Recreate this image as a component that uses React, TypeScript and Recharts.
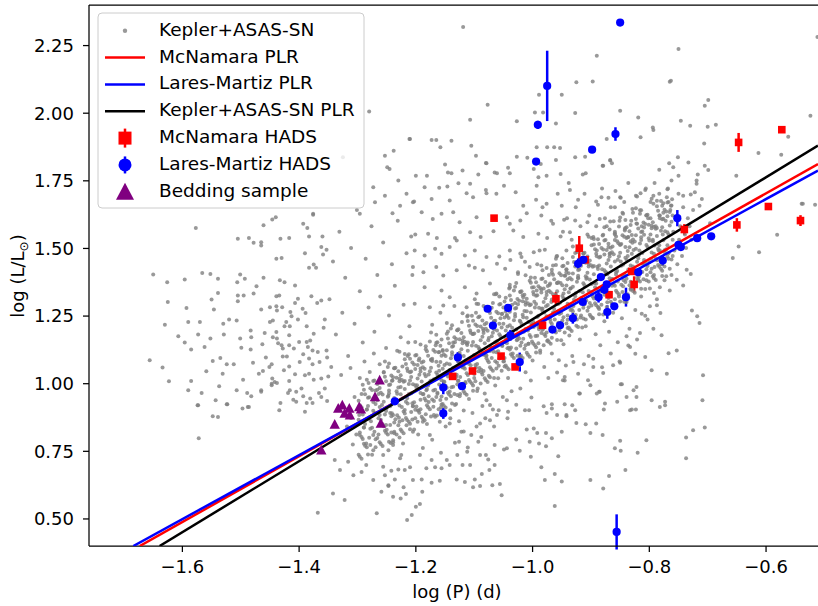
import React from "react";
import { ScatterChart, Scatter, XAxis, YAxis, ErrorBar, ReferenceLine } from "recharts";

const X_TICKS = [-1.6, -1.4, -1.2, -1.0, -0.8, -0.6];
const Y_TICKS = [0.5, 0.75, 1.0, 1.25, 1.5, 1.75, 2.0, 2.25];

// Kepler+ASAS-SN stars
const GRAY_LEFT = [
  [-1.577,1.576],[-1.650,1.404],[-1.626,1.375],[-1.596,1.385],[-1.566,1.409],[-1.552,1.406],[-1.539,1.388],[-1.625,1.302],[-1.593,1.280],[-1.630,1.218],
  [-1.607,1.175],[-1.590,1.228],[-1.570,1.228],[-1.656,1.087],[-1.634,1.060],[-1.623,1.009],[-1.596,1.152],[-1.585,1.126],[-1.573,1.182],[-1.562,1.136],
  [-1.550,1.311],[-1.546,1.274],[-1.539,1.335],[-1.585,1.010],[-1.590,0.976],[-1.567,0.966],[-1.573,0.920],[-1.559,1.046],[-1.548,1.084],[-1.552,1.167],
  [-1.530,1.222],[-1.529,1.182],[-1.520,1.237],[-1.507,1.234],[-1.535,1.095],[-1.524,1.072],[-1.512,1.072],[-1.531,1.037],[-1.537,0.991],[-1.543,0.939],
  [-1.524,0.924],[-1.507,0.976],[-1.496,1.015],[-1.501,1.167],[-1.499,1.133],[-1.483,1.197],[-1.482,1.172],[-1.483,1.126],[-1.479,1.077],[-1.469,1.037],
  [-1.462,1.047],[-1.489,0.966],[-1.482,0.954],[-1.465,0.976],[-1.451,1.062],[-1.447,1.072],[-1.446,1.019],[-1.447,1.000],[-1.457,1.097],[-1.463,1.146],
  [-1.459,1.187],[-1.450,1.228],[-1.445,1.234],[-1.450,1.283],[-1.439,1.286],[-1.429,1.283],[-1.438,1.271],[-1.439,1.323],[-1.434,1.326],[-1.465,1.274],
  [-1.478,1.333],[-1.473,1.360],[-1.495,1.326],[-1.505,1.326],[-1.505,1.305],[-1.506,1.375],[-1.501,1.404],[-1.493,1.388],[-1.461,1.392],[-1.433,1.382],
  [-1.425,1.375],[-1.407,1.363],[-1.505,1.536],[-1.486,1.539],[-1.478,1.521],[-1.465,1.523],[-1.465,1.511],[-1.461,1.586],[-1.446,1.607],[-1.440,1.615],
  [-1.432,1.536],[-1.417,1.539],[-1.439,1.462],[-1.430,1.465],[-1.393,1.591],[-1.386,1.576],[-1.376,1.625],[-1.383,1.544],[-1.390,1.482],[-1.360,1.544],
  [-1.362,1.505],[-1.353,1.495],[-1.359,1.478],[-1.383,1.429],[-1.375,1.441],[-1.371,1.429],[-1.379,1.323],[-1.369,1.298],[-1.362,1.308],[-1.402,1.314],
  [-1.407,1.298],[-1.394,1.277],[-1.389,1.261],[-1.415,1.265],[-1.413,1.249],[-1.422,1.228],[-1.416,1.212],[-1.425,1.212],[-1.402,1.237],[-1.387,1.212],
  [-1.356,1.237],[-1.358,1.207],[-1.375,1.185],[-1.417,1.179],[-1.439,1.191],[-1.445,1.172],[-1.438,1.167],[-1.436,1.150],[-1.430,1.142],[-1.428,1.130],
  [-1.417,1.142],[-1.400,1.154],[-1.387,1.154],[-1.381,1.160],[-1.385,1.136],[-1.377,1.123],[-1.368,1.117],[-1.353,1.123],[-1.393,1.109],[-1.383,1.093],
  [-1.377,1.072],[-1.365,1.080],[-1.352,1.097],[-1.428,1.101],[-1.421,1.101],[-1.409,1.130],[-1.417,1.064],[-1.407,1.035],[-1.399,1.080],[-1.390,1.031],
  [-1.383,1.037],[-1.375,1.015],[-1.362,1.019],[-1.350,1.027],[-1.426,1.050],[-1.447,0.994],[-1.442,1.006],[-1.438,1.003],[-1.417,1.010],[-1.416,0.976],
  [-1.405,0.970],[-1.396,0.982],[-1.381,0.945],[-1.366,0.966],[-1.356,0.982],[-1.419,0.966],[-1.410,0.941],[-1.432,0.929],[-1.405,0.933],[-1.393,0.954],
  [-1.387,0.929],[-1.377,0.929],[-1.362,0.951],[-1.352,0.936],[-1.465,0.970],[-1.486,0.914],[-1.497,0.908],
  [-1.574,0.920],[-1.539,0.877],[-1.548,0.880],[-1.572,0.798],[-1.523,0.924],[-1.488,0.914],[-1.434,0.902],[-1.390,0.896],
];

const GRAY_LOW = [
  [-1.368,0.523],[-1.342,0.594],[-1.322,0.570],[-1.267,0.521],[-1.339,0.718],[-1.330,0.681],[-1.316,0.711],[-1.307,0.662],[-1.293,0.674],[-1.285,0.699],
  [-1.273,0.644],[-1.256,0.693],[-1.247,0.625],[-1.239,0.582],[-1.285,0.779],[-1.296,0.810],[-1.273,0.754],[-1.256,0.736],[-1.239,0.773],[-1.227,0.724],
  [-1.219,0.681],[-0.945,1.012],[-0.901,0.994],[-0.849,0.998],[-0.822,0.988],[-0.920,0.964],[-0.886,0.970],[-0.855,0.933],[-0.839,0.951],[-0.830,0.905],
  [-0.823,0.905],[-0.876,0.927],[-0.878,0.905],[-0.932,0.920],[-0.945,0.924],[-0.942,0.880],[-0.958,0.884],[-0.925,0.855],[-0.909,0.850],[-0.891,0.853],
  [-0.901,0.818],[-0.880,0.810],[-0.950,0.822],[-0.967,0.924],[-0.981,0.917],[-0.976,0.892],[-0.967,0.908],[-1.002,0.949],[-1.006,0.902],[-1.010,0.831],
  [-0.998,0.834],[-0.992,0.818],[-0.977,0.818],[-1.028,0.794],[-1.005,0.785],[-0.989,0.779],[-0.977,0.769],[-0.967,0.798],[-1.003,0.730],[-1.022,0.752],
  [-1.044,0.761],[-1.049,0.757],[-0.956,0.732],[-0.985,0.691],[-0.962,0.666],[-0.950,0.638],[-0.979,0.644],[-0.962,0.548],[-0.901,0.644],[-0.869,0.659],
  [-0.879,0.613],[-0.859,0.761],[-0.849,0.752],[-0.841,0.681],[-0.850,0.789],[-0.820,0.745],[-1.053,0.588],[-1.069,0.625],[-1.090,0.622],[-1.102,0.617],
  [-1.099,0.646],[-1.087,0.666],[-1.074,0.681],[-1.065,0.699],[-1.076,0.720],[-1.056,0.629],[-1.116,0.637],[-1.130,0.646],[-1.159,0.641],[-1.173,0.634],
  [-1.190,0.646],[-1.205,0.644],[-1.193,0.555],[-1.200,0.545],[-1.207,0.515],[-1.215,0.496],[-1.189,0.601],[-1.217,0.592],[-1.226,0.576],[-1.221,0.617],
  [-1.236,0.646],[-1.247,0.622],[-1.259,0.601],[-1.253,0.662],[-1.242,0.678],[-1.230,0.683],[-1.210,0.691],[-1.182,0.687],[-1.167,0.691],[-1.156,0.687],
  [-1.142,0.699],[-1.147,0.718],[-1.120,0.699],[-1.107,0.699],[-1.129,0.736],[-1.112,0.748],[-1.090,0.736],[-1.080,0.736],[-1.065,0.773],[-1.093,0.785],
  [-1.105,0.810],[-1.126,0.785],[-1.122,0.822],[-1.090,0.853],[-1.073,0.865],[-1.061,0.884],[-1.042,0.896],[-1.044,0.939],[-1.068,0.905],[-1.079,0.939],
  [-1.159,0.859],[-1.142,0.853],[-1.176,0.810],[-1.205,0.822],[-1.222,0.779],[-1.239,0.791],[-1.247,0.754],[-1.225,0.736],[-1.193,0.736],[-1.173,0.718],
  [-0.737,0.801],[-0.737,0.724],[-0.725,0.828],[-0.705,0.838],[-0.773,0.920],[-0.805,0.791],
  [-1.196,0.812],[-1.188,0.762],[-1.181,0.851],[-1.172,0.793],[-1.164,0.882],[-1.157,0.745],[-1.149,0.842],[-1.141,0.902],[-1.133,0.782],[-1.126,0.861],
  [-1.118,0.823],[-1.111,0.764],[-1.103,0.892],[-1.096,0.842],[-1.088,0.803],[-1.081,0.872],[-1.073,0.921],[-1.066,0.842],[-1.058,0.902],[-1.051,0.951],
  [-1.043,0.872],[-1.036,0.972],[-1.028,0.922],[-1.021,0.982],[-1.013,0.902],
];

const GRAY_UPPER = [
  [-1.097,1.843],[-1.027,1.839],[-1.009,1.835],[-0.927,1.837],[-0.880,1.806],[-0.867,1.825],[-1.150,1.810],[-1.079,1.815],[-1.200,1.769],[-1.181,1.769],
  [-1.145,1.781],[-1.139,1.778],[-1.120,1.788],[-1.093,1.773],[-1.065,1.781],[-1.061,1.778],[-1.039,1.778],[-0.998,1.794],[-0.976,1.769],[-0.952,1.775],
  [-0.914,1.773],[-1.185,1.726],[-1.160,1.724],[-1.146,1.729],[-1.127,1.741],[-1.107,1.739],[-1.080,1.716],[-1.049,1.732],[-0.993,1.732],[-0.936,1.716],
  [-1.203,1.674],[-1.173,1.683],[-1.142,1.677],[-1.113,1.704],[-1.102,1.689],[-1.079,1.704],[-1.062,1.702],[-1.029,1.708],[-1.016,1.658],[-0.994,1.680],
  [-0.976,1.665],[-0.950,1.658],[-0.922,1.680],[-0.891,1.674],[-0.849,1.687],[-1.190,1.634],[-1.171,1.609],[-1.156,1.628],[-1.136,1.634],[-1.125,1.597],
  [-1.096,1.615],[-1.044,1.615],[-1.039,1.591],[-1.021,1.603],[-1.010,1.630],[-0.985,1.622],[-0.965,1.591],[-0.946,1.606],[-0.927,1.603],[-0.906,1.597],
  [-0.885,1.609],[-0.867,1.600],[-0.845,1.628],[-1.208,1.544],[-1.179,1.554],[-1.164,1.539],[-1.133,1.539],[-1.130,1.529],[-1.107,1.560],[-1.089,1.542],
  [-1.067,1.564],[-1.033,1.566],[-1.016,1.542],[-0.990,1.554],[-0.975,1.539],[-0.952,1.544],[-0.936,1.560],[-0.899,1.539],[-0.880,1.548],[-0.859,1.556],
  [-0.842,1.566],[-1.202,1.492],[-1.185,1.474],[-1.167,1.499],[-1.156,1.480],[-1.142,1.505],[-1.116,1.474],[-1.099,1.492],[-1.079,1.468],[-1.057,1.470],
  [-1.039,1.492],[-1.019,1.468],[-0.998,1.486],[-0.979,1.495],[-0.959,1.470],[-0.942,1.492],[-0.890,1.492],[-0.870,1.505],[-0.853,1.519],[-0.839,1.539],
  [-1.205,1.431],[-1.187,1.412],[-1.165,1.431],[-1.153,1.400],[-1.130,1.419],[-1.109,1.437],[-1.099,1.429],[-1.085,1.419],[-1.061,1.443],[-1.047,1.425],
  [-1.025,1.406],[-1.005,1.431],[-0.983,1.419],[-0.965,1.437],[-0.942,1.412],[-1.185,1.357],[-1.156,1.345],[-1.142,1.320],[-1.116,1.357],[-1.096,1.333],
  [-1.073,1.370],[-1.062,1.333],[-1.039,1.357],[-1.016,1.320],[-0.993,1.345],[-0.970,1.370],[-0.947,1.333],[-1.202,1.296],[-1.176,1.283],[-1.153,1.289],
  [-1.113,1.283],[-1.096,1.296],
  [-1.348,1.312],[-1.342,1.452],[-1.337,1.182],[-1.331,1.562],[-1.326,1.262],[-1.321,1.392],[-1.316,1.102],[-1.311,1.502],[-1.305,1.222],[-1.301,1.642],
  [-1.296,1.342],[-1.291,1.152],[-1.286,1.462],[-1.281,1.282],[-1.276,1.582],[-1.271,1.192],[-1.266,1.402],[-1.261,1.322],[-1.256,1.522],[-1.251,1.132],
  [-1.246,1.252],[-1.241,1.442],[-1.236,1.362],[-1.231,1.602],[-1.226,1.172],[-1.221,1.292],[-1.216,1.482],[-1.211,1.212],[-1.206,1.402],[-1.201,1.552],
  [-1.345,1.062],[-1.328,1.032],[-1.312,1.058],[-1.288,1.082],[-1.272,1.112],[-1.253,1.082],[-1.232,1.122],[-1.213,1.152],
];

const GRAY_TOP = [
  [-1.280,2.006],[-1.211,1.905],[-1.238,1.861],[-1.253,1.843],[-1.249,1.800],[-1.245,1.794],[-1.230,1.751],[-1.216,1.702],[-1.205,1.671],[-1.273,1.726],
  [-1.270,1.671],[-1.253,1.695],[-1.240,1.630],[-1.227,1.658],[-1.376,1.628],[-1.296,1.628],[-1.325,1.837],
  [-1.119,2.319],[-0.890,2.212],[-1.077,2.031],[-0.925,2.114],[-0.897,2.117],[-0.989,2.068],[-0.950,2.068],[-1.107,1.976],[-1.027,1.970],[-0.996,2.003],
  [-0.982,2.003],[-0.927,2.001],[-0.960,1.962],[-1.210,1.905],[-1.173,1.901],[-1.165,1.901],[-1.139,1.898],[-1.105,1.880],[-1.158,1.874],[-0.993,1.874],
  [-0.975,1.874],[-0.963,1.874],[-0.953,1.871],[-1.042,1.798],[-0.986,1.812],[-0.990,1.763],[-0.909,1.778],[-0.960,1.827],[-0.910,1.839],[-1.080,1.816],
];

const GRAY_RIGHT = [
  [-0.539,1.665],[-0.516,1.662],[-0.581,1.551],[-0.612,1.486],[-0.647,1.507],[-0.657,1.465],[-0.696,1.593],[-0.718,1.249],[-0.714,1.224],[-0.727,1.271],
  [-0.708,1.031],[-0.709,0.939],[-0.736,1.421],[-0.729,1.406],[-0.753,1.384],[-0.742,1.363],[-0.765,1.345],[-0.782,1.357],[-0.792,1.335],[-0.799,1.286],
  [-0.787,1.290],[-0.781,1.261],[-0.813,1.259],[-0.803,1.237],[-0.793,1.203],[-0.779,1.179],[-0.767,1.113],[-0.753,1.123],[-0.770,1.037],[-0.773,0.933],
  [-0.796,1.050],[-0.807,1.099],[-0.824,1.111],[-0.833,1.136],[-0.816,1.187],[-0.839,1.175],[-0.850,1.077],[-0.862,1.068],[-0.847,0.998],[-0.827,0.976],
  [-0.822,0.951],[-0.833,0.902],[-0.796,0.939],[-0.782,0.914],[-0.879,1.040],[-0.885,0.970],[-0.896,1.062],[-0.905,1.013],[-0.919,0.964],[-0.927,0.902],
  [-0.942,0.884],[-0.945,1.025],[-0.948,1.013],[-0.922,1.037],[-0.930,1.080],[-0.890,0.964],
  [-0.750,2.237],[-0.765,2.116],[-0.699,2.049],[-0.705,2.028],[-0.850,2.009],[-0.819,1.984],[-0.794,1.947],[-0.793,1.938],[-0.746,1.972],[-0.730,1.954],
  [-0.700,1.950],[-0.686,1.957],[-0.524,1.991],[-0.512,2.282],[-0.815,1.911],[-0.873,1.905],[-0.706,1.888],[-0.751,1.837],[-0.733,1.818],[-0.766,1.815],
  [-0.759,1.800],[-0.867,1.827],[-0.864,1.815],[-0.879,1.806],[-0.783,1.791],[-0.705,1.806],[-0.699,1.790],[-0.750,1.769],[-0.717,1.773],[-0.651,1.769],
  [-0.613,1.853],[-0.574,1.846],[-0.562,1.913],[-0.762,1.751],[-0.719,1.751],[-0.719,1.739],[-0.807,1.716],[-0.823,1.695],[-0.815,1.704],[-0.793,1.695],
  [-0.770,1.689],[-0.742,1.695],[-0.729,1.699],[-0.710,1.683],[-0.722,1.708],[-0.850,1.689],[-0.870,1.687],[-0.882,1.689],[-0.859,1.652],[-0.829,1.646],
  [-0.793,1.665],[-0.776,1.667],[-0.763,1.658],[-0.750,1.702],[-0.714,1.658],[-0.537,1.665],[-0.763,2.120],
];

const GRAY_BAND = [
  [-1.318,0.842],[-1.311,0.873],[-1.305,0.951],[-1.302,0.812],[-1.297,0.884],[-1.293,0.962],[-1.289,0.838],[-1.284,0.905],[-1.281,1.003],[-1.277,0.861],
  [-1.273,0.932],[-1.269,0.795],[-1.266,0.978],[-1.262,0.884],[-1.258,0.921],[-1.255,1.041],[-1.251,0.847],[-1.247,0.955],[-1.244,0.892],[-1.240,1.012],
  [-1.237,0.822],[-1.233,0.931],[-1.229,0.874],[-1.226,0.988],[-1.223,1.064],[-1.219,0.903],[-1.216,0.846],[-1.212,0.962],[-1.208,1.025],[-1.205,0.917],
  [-1.201,0.872],[-1.198,0.994],[-1.195,1.087],[-1.192,0.941],[-1.188,0.859],[-1.185,1.036],[-1.182,0.976],[-1.279,1.043],[-1.262,1.072],[-1.243,0.781],
  [-1.228,0.801],[-1.214,1.102],[-1.296,1.021],[-1.308,0.775],[-1.196,0.902],
  [-1.178,0.932],[-1.175,1.011],[-1.172,1.084],[-1.169,0.884],[-1.166,1.142],[-1.163,0.967],[-1.160,1.048],[-1.157,0.913],[-1.154,1.121],[-1.151,1.006],
  [-1.148,0.944],[-1.145,1.193],[-1.142,1.072],[-1.139,0.987],[-1.136,1.152],[-1.133,0.921],[-1.130,1.033],[-1.127,1.104],[-1.124,0.962],[-1.121,1.228],
  [-1.118,1.061],[-1.115,1.002],[-1.112,1.143],[-1.109,0.943],[-1.106,1.088],[-1.103,1.184],[-1.100,1.021],[-1.097,1.262],[-1.094,0.982],[-1.091,1.127],
  [-1.088,1.052],[-1.085,1.203],[-1.082,0.964],[-1.079,1.094],[-1.076,1.161],[-1.073,1.024],[-1.070,1.281],[-1.067,1.118],[-1.064,0.993],[-1.061,1.197],
  [-1.058,1.066],[-1.055,1.242],[-1.052,1.142],[-1.172,1.218],[-1.158,1.262],[-1.141,0.872],[-1.118,0.901],[-1.099,1.312],[-1.086,0.918],[-1.063,1.331],
  [-1.134,1.287],[-1.112,1.248],[-1.145,1.041],[-1.128,1.011],[-1.104,1.046],
  [-1.049,1.083],[-1.047,1.172],[-1.044,1.254],[-1.042,1.021],[-1.040,1.352],[-1.037,1.134],[-1.035,1.207],[-1.032,1.062],[-1.030,1.298],[-1.027,1.161],
  [-1.025,1.412],[-1.022,1.233],[-1.020,1.103],[-1.017,1.327],[-1.015,1.192],[-1.012,1.042],[-1.010,1.268],[-1.007,1.148],[-1.005,1.381],[-1.002,1.221],
  [-1.000,1.086],[-0.997,1.303],[-0.995,1.176],[-0.992,1.442],[-0.990,1.251],[-0.987,1.123],[-0.985,1.348],[-0.982,1.203],[-0.980,1.062],[-0.977,1.286],
  [-0.975,1.158],[-0.972,1.402],[-0.970,1.238],[-0.967,1.112],[-0.965,1.331],[-0.962,1.194],[-0.960,1.462],[-0.957,1.267],[-0.955,1.087],[-0.952,1.372],
  [-0.950,1.221],[-0.947,1.146],[-0.945,1.312],[-0.942,1.421],[-0.940,1.252],[-0.937,1.178],[-0.935,1.352],[-0.932,1.102],[-0.930,1.287],[-0.927,1.483],
  [-0.925,1.214],[-0.922,1.392],[-1.038,1.457],[-1.021,1.481],[-1.003,1.012],[-0.988,1.492],[-0.973,1.021],[-0.958,1.041],[-0.943,1.067],[-1.046,1.318],
  [-1.028,1.372],[-1.013,1.451],[-0.998,1.357],[-0.983,1.278],[-0.968,1.302],[-0.953,1.268],
  [-0.919,1.163],[-0.917,1.252],[-0.914,1.338],[-0.912,1.451],[-0.909,1.212],[-0.907,1.392],[-0.904,1.102],[-0.902,1.298],[-0.899,1.512],[-0.897,1.243],
  [-0.894,1.372],[-0.892,1.183],[-0.889,1.432],[-0.887,1.281],[-0.884,1.142],[-0.882,1.342],[-0.879,1.551],[-0.877,1.231],[-0.874,1.412],[-0.872,1.301],
  [-0.869,1.192],[-0.867,1.482],[-0.864,1.362],[-0.862,1.262],[-0.859,1.531],[-0.857,1.412],[-0.854,1.153],[-0.852,1.322],[-0.849,1.452],[-0.847,1.242],
  [-0.844,1.382],[-0.842,1.572],[-0.839,1.302],[-0.837,1.472],[-0.834,1.203],[-0.832,1.352],[-0.829,1.521],[-0.827,1.422],[-0.824,1.272],[-0.822,1.592],
  [-0.819,1.382],[-0.817,1.492],[-0.814,1.322],[-0.812,1.443],[-0.809,1.551],[-0.807,1.251],[-0.804,1.402],[-0.802,1.612],[-0.912,1.072],[-0.896,1.092],
  [-0.881,1.061],[-0.866,1.112],[-0.851,1.082],[-0.836,1.141],[-0.821,1.163],[-0.906,1.552],[-0.891,1.582],[-0.876,1.612],[-0.861,1.601],[-0.846,1.632],
  [-0.831,1.602],[-0.816,1.641],
  [-0.799,1.352],[-0.797,1.462],[-0.794,1.532],[-0.792,1.402],[-0.789,1.582],[-0.787,1.312],[-0.784,1.492],[-0.782,1.622],[-0.779,1.442],[-0.777,1.552],
  [-0.774,1.382],[-0.772,1.602],[-0.769,1.512],[-0.767,1.462],[-0.764,1.642],[-0.762,1.402],[-0.759,1.562],[-0.757,1.492],[-0.754,1.612],[-0.752,1.442],
  [-0.749,1.532],[-0.747,1.582],[-0.744,1.472],[-0.742,1.652],[-0.739,1.552],[-0.737,1.502],[-0.734,1.612],[-0.731,1.582],[-0.728,1.532],[-0.725,1.642],
  [-0.948,1.562],[-0.941,1.612],[-0.933,1.532],[-0.926,1.652],[-0.918,1.582],[-0.911,1.702],[-0.903,1.622],[-0.896,1.542],[-0.888,1.662],[-0.881,1.722],
  [-0.873,1.582],[-0.866,1.652],[-0.858,1.712],[-0.851,1.602],[-0.843,1.672],[-0.836,1.742],[-0.828,1.632],[-0.821,1.692],[-0.813,1.582],[-0.806,1.722],
  [-0.798,1.672],[-0.791,1.742],[-0.783,1.702],[-0.776,1.632],[-0.768,1.722],[-0.761,1.682],[-0.968,1.602],[-0.983,1.652],[-0.957,1.702],[-0.938,1.742],
];

// the crowded ridge along the relation
const GRAY_CORE_A = [
  [-1.298,0.737],[-1.298,0.867],[-1.298,0.937],[-1.293,0.803],[-1.293,0.913],[-1.293,0.723],[-1.289,0.978],[-1.289,0.838],[-1.289,0.778],
  [-1.284,0.905],[-1.284,0.765],[-1.284,1.015],[-1.280,0.800],[-1.280,0.950],[-1.280,0.870],[-1.275,0.977],[-1.275,0.837],[-1.275,0.737],
  [-1.271,0.892],[-1.271,1.012],[-1.271,0.822],[-1.266,0.799],[-1.266,0.939],[-1.266,0.999],[-1.262,0.784],[-1.262,0.914],[-1.262,0.984],
  [-1.257,0.850],[-1.257,0.960],[-1.257,0.770],[-1.253,1.026],[-1.253,0.886],[-1.253,0.826],[-1.248,0.952],[-1.248,0.812],[-1.248,1.062],
  [-1.244,0.847],[-1.244,0.997],[-1.244,0.917],[-1.239,1.024],[-1.239,0.884],[-1.239,0.784],[-1.235,0.939],[-1.235,1.059],[-1.235,0.869],
  [-1.230,0.846],[-1.230,0.986],[-1.230,1.046],[-1.226,0.831],[-1.226,0.961],[-1.226,1.031],[-1.221,0.897],[-1.221,1.007],[-1.221,0.817],
  [-1.217,1.073],[-1.217,0.933],[-1.217,0.873],[-1.212,0.999],[-1.212,0.859],[-1.212,1.109],[-1.208,0.895],[-1.208,1.045],[-1.208,0.965],
  [-1.203,1.071],[-1.203,0.931],[-1.203,0.831],[-1.199,0.986],[-1.199,1.106],[-1.199,0.916],[-1.194,0.893],[-1.194,1.033],[-1.194,1.093],
  [-1.190,0.878],[-1.190,1.008],[-1.190,1.078],[-1.185,0.945],[-1.185,1.055],[-1.185,0.865],[-1.181,1.120],[-1.181,0.980],[-1.181,0.920],
  [-1.176,1.046],[-1.176,0.906],[-1.176,1.156],[-1.172,0.942],[-1.172,1.092],[-1.172,1.012],[-1.167,1.118],[-1.167,0.978],[-1.167,0.878],
  [-1.163,1.033],[-1.163,1.153],[-1.163,0.963],[-1.158,0.940],[-1.158,1.080],[-1.158,1.140],[-1.154,0.925],[-1.154,1.055],[-1.154,1.125],
  [-1.149,0.992],[-1.149,1.102],[-1.149,0.912],[-1.145,1.167],[-1.145,1.027],[-1.145,0.967],[-1.140,1.094],[-1.140,0.954],[-1.140,1.204],
  [-1.136,0.989],[-1.136,1.139],[-1.136,1.059],[-1.131,1.165],[-1.131,1.025],[-1.131,0.925],[-1.127,1.081],[-1.127,1.201],[-1.127,1.011],
  [-1.122,0.987],[-1.122,1.127],[-1.122,1.187],[-1.118,0.972],[-1.118,1.102],[-1.118,1.172],[-1.113,1.039],[-1.113,1.149],[-1.113,0.959],
  [-1.109,1.214],[-1.109,1.074],[-1.109,1.014],[-1.104,1.141],[-1.104,1.001],[-1.104,1.251],[-1.100,1.036],[-1.100,1.186],[-1.100,1.106],
  [-1.095,1.213],[-1.095,1.073],[-1.095,0.973],[-1.091,1.128],[-1.091,1.248],[-1.091,1.058],[-1.086,1.034],[-1.086,1.174],[-1.086,1.234],
  [-1.082,1.020],[-1.082,1.150],[-1.082,1.220],[-1.077,1.086],[-1.077,1.196],[-1.077,1.006],[-1.073,1.261],[-1.073,1.121],[-1.073,1.061],
  [-1.068,1.188],[-1.068,1.048],[-1.068,1.298],[-1.064,1.083],[-1.064,1.233],[-1.064,1.153],[-1.059,1.260],[-1.059,1.120],[-1.059,1.020],
  [-1.055,1.175],[-1.055,1.295],[-1.055,1.105],[-1.050,1.082],[-1.050,1.222],[-1.050,1.282],[-1.046,1.067],[-1.046,1.197],[-1.046,1.267],
  [-1.041,1.133],[-1.041,1.243],[-1.041,1.053],[-1.037,1.309],[-1.037,1.169],[-1.037,1.109],[-1.032,1.235],[-1.032,1.095],[-1.032,1.345],
  [-1.028,1.130],[-1.028,1.280],[-1.028,1.200],[-1.023,1.307],[-1.023,1.167],[-1.023,1.067],[-1.019,1.222],[-1.019,1.342],[-1.019,1.152],
  [-1.014,1.129],[-1.014,1.269],[-1.014,1.329],[-1.010,1.114],[-1.010,1.244],[-1.010,1.314],[-1.005,1.180],[-1.005,1.290],[-1.005,1.100],
  [-1.001,1.356],[-1.001,1.216],[-1.001,1.156],[-0.996,1.282],[-0.996,1.142],[-0.996,1.392],[-0.992,1.177],[-0.992,1.327],[-0.992,1.247],
  [-0.987,1.354],[-0.987,1.214],[-0.987,1.114],[-0.983,1.269],[-0.983,1.389],[-0.983,1.199],[-0.978,1.176],[-0.978,1.316],[-0.978,1.376],
  [-0.974,1.161],[-0.974,1.291],[-0.974,1.361],[-0.969,1.228],[-0.969,1.338],[-0.969,1.148],[-0.965,1.403],[-0.965,1.263],[-0.965,1.203],
  [-0.960,1.329],[-0.960,1.189],[-0.960,1.439],[-0.956,1.225],[-0.956,1.375],[-0.956,1.295],[-0.951,1.401],[-0.951,1.261],[-0.951,1.161],
  [-0.947,1.316],[-0.947,1.436],[-0.947,1.246],[-0.942,1.223],[-0.942,1.363],[-0.942,1.423],[-0.938,1.208],[-0.938,1.338],[-0.938,1.408],
  [-0.933,1.275],[-0.933,1.385],[-0.933,1.195],[-0.929,1.450],[-0.929,1.310],[-0.929,1.250],[-0.924,1.377],[-0.924,1.237],[-0.924,1.487],
  [-0.920,1.272],[-0.920,1.422],[-0.920,1.342],[-0.915,1.448],[-0.915,1.308],[-0.915,1.208],[-0.911,1.364],[-0.911,1.484],[-0.911,1.294],
  [-0.906,1.270],[-0.906,1.410],[-0.906,1.470],[-0.902,1.255],[-0.902,1.385],[-0.902,1.455],[-0.897,1.322],[-0.897,1.432],[-0.897,1.242],
  [-0.893,1.497],[-0.893,1.357],[-0.893,1.297],[-0.888,1.424],[-0.888,1.284],[-0.888,1.534],[-0.884,1.319],[-0.884,1.469],[-0.884,1.389],
  [-0.879,1.496],[-0.879,1.356],[-0.879,1.256],[-0.875,1.411],[-0.875,1.531],[-0.875,1.341],[-0.870,1.317],[-0.870,1.457],[-0.870,1.517],
  [-0.866,1.303],[-0.866,1.433],[-0.866,1.503],[-0.861,1.369],[-0.861,1.479],[-0.861,1.289],[-0.857,1.544],[-0.857,1.404],[-0.857,1.344],
  [-0.852,1.471],[-0.852,1.331],[-0.852,1.581],[-0.848,1.366],[-0.848,1.516],[-0.848,1.436],[-0.843,1.543],[-0.843,1.403],[-0.843,1.303],
  [-0.839,1.458],[-0.839,1.578],[-0.839,1.388],[-0.834,1.364],[-0.834,1.504],[-0.834,1.564],[-0.830,1.350],[-0.830,1.480],[-0.830,1.550],
  [-0.825,1.416],[-0.825,1.526],[-0.825,1.336],[-0.821,1.591],[-0.821,1.451],[-0.821,1.391],[-0.816,1.518],[-0.816,1.378],[-0.816,1.628],
  [-0.812,1.413],[-0.812,1.563],[-0.812,1.483],[-0.807,1.590],[-0.807,1.450],[-0.807,1.350],[-0.803,1.505],[-0.803,1.625],[-0.803,1.435],
  [-0.798,1.412],[-0.798,1.552],[-0.798,1.612],[-0.794,1.397],[-0.794,1.527],[-0.794,1.597],[-0.789,1.463],[-0.789,1.573],[-0.789,1.383],
  [-0.785,1.639],[-0.785,1.499],[-0.785,1.439],[-0.780,1.565],[-0.780,1.425],[-0.780,1.675],[-0.776,1.460],[-0.776,1.610],[-0.776,1.530],
  [-0.771,1.637],[-0.771,1.497],[-0.771,1.397],[-0.767,1.552],[-0.767,1.672],[-0.767,1.482],[-0.762,1.459],[-0.762,1.599],[-0.762,1.659],
];

const GRAY_CORE_B = [
  [-1.296,0.820],[-1.296,0.920],[-1.296,0.730],[-1.291,0.996],[-1.291,0.796],[-1.291,0.886],[-1.287,0.771],[-1.287,0.961],[-1.287,0.851],
  [-1.282,0.918],[-1.282,0.738],[-1.282,0.948],[-1.278,0.833],[-1.278,0.983],[-1.278,0.773],[-1.273,0.900],[-1.273,0.810],[-1.273,1.010],
  [-1.269,0.765],[-1.269,0.925],[-1.269,0.975],[-1.264,0.962],[-1.264,0.872],[-1.264,0.812],[-1.260,0.867],[-1.260,0.967],[-1.260,0.777],
  [-1.255,1.043],[-1.255,0.843],[-1.255,0.933],[-1.251,0.819],[-1.251,1.009],[-1.251,0.899],[-1.246,0.965],[-1.246,0.785],[-1.246,0.995],
  [-1.242,0.880],[-1.242,1.030],[-1.242,0.820],[-1.237,0.947],[-1.237,0.857],[-1.237,1.057],[-1.233,0.812],[-1.233,0.972],[-1.233,1.022],
  [-1.228,1.009],[-1.228,0.919],[-1.228,0.859],[-1.224,0.914],[-1.224,1.014],[-1.224,0.824],[-1.219,1.090],[-1.219,0.890],[-1.219,0.980],
  [-1.215,0.866],[-1.215,1.056],[-1.215,0.946],[-1.210,1.012],[-1.210,0.832],[-1.210,1.042],[-1.206,0.928],[-1.206,1.078],[-1.206,0.868],
  [-1.201,0.994],[-1.201,0.904],[-1.201,1.104],[-1.197,0.859],[-1.197,1.019],[-1.197,1.069],[-1.192,1.056],[-1.192,0.966],[-1.192,0.906],
  [-1.188,0.961],[-1.188,1.061],[-1.188,0.871],[-1.183,1.138],[-1.183,0.938],[-1.183,1.028],[-1.179,0.913],[-1.179,1.103],[-1.179,0.993],
  [-1.174,1.059],[-1.174,0.879],[-1.174,1.089],[-1.170,0.975],[-1.170,1.125],[-1.170,0.915],[-1.165,1.041],[-1.165,0.951],[-1.165,1.151],
  [-1.161,0.906],[-1.161,1.066],[-1.161,1.116],[-1.156,1.103],[-1.156,1.013],[-1.156,0.953],[-1.152,1.008],[-1.152,1.108],[-1.152,0.918],
  [-1.147,1.185],[-1.147,0.985],[-1.147,1.075],[-1.143,0.960],[-1.143,1.150],[-1.143,1.040],[-1.138,1.107],[-1.138,0.927],[-1.138,1.137],
  [-1.134,1.022],[-1.134,1.172],[-1.134,0.962],[-1.129,1.088],[-1.129,0.998],[-1.129,1.198],[-1.125,0.954],[-1.125,1.114],[-1.125,1.164],
  [-1.120,1.150],[-1.120,1.060],[-1.120,1.000],[-1.116,1.055],[-1.116,1.155],[-1.116,0.965],[-1.111,1.232],[-1.111,1.032],[-1.111,1.122],
  [-1.107,1.007],[-1.107,1.197],[-1.107,1.087],[-1.102,1.154],[-1.102,0.974],[-1.102,1.184],[-1.098,1.069],[-1.098,1.219],[-1.098,1.009],
  [-1.093,1.136],[-1.093,1.046],[-1.093,1.246],[-1.089,1.001],[-1.089,1.161],[-1.089,1.211],[-1.084,1.197],[-1.084,1.107],[-1.084,1.047],
  [-1.080,1.103],[-1.080,1.203],[-1.080,1.013],[-1.075,1.279],[-1.075,1.079],[-1.075,1.169],[-1.071,1.054],[-1.071,1.244],[-1.071,1.134],
  [-1.066,1.201],[-1.066,1.021],[-1.066,1.231],[-1.062,1.116],[-1.062,1.266],[-1.062,1.056],[-1.057,1.183],[-1.057,1.093],[-1.057,1.293],
  [-1.053,1.048],[-1.053,1.208],[-1.053,1.258],[-1.048,1.245],[-1.048,1.155],[-1.048,1.095],[-1.044,1.150],[-1.044,1.250],[-1.044,1.060],
  [-1.039,1.326],[-1.039,1.126],[-1.039,1.216],[-1.035,1.102],[-1.035,1.292],[-1.035,1.182],[-1.030,1.248],[-1.030,1.068],[-1.030,1.278],
  [-1.026,1.163],[-1.026,1.313],[-1.026,1.103],[-1.021,1.230],[-1.021,1.140],[-1.021,1.340],[-1.017,1.095],[-1.017,1.255],[-1.017,1.305],
  [-1.012,1.292],[-1.012,1.202],[-1.012,1.142],[-1.008,1.197],[-1.008,1.297],[-1.008,1.107],[-1.003,1.373],[-1.003,1.173],[-1.003,1.263],
  [-0.999,1.149],[-0.999,1.339],[-0.999,1.229],[-0.994,1.295],[-0.994,1.115],[-0.994,1.325],[-0.990,1.210],[-0.990,1.360],[-0.990,1.150],
  [-0.985,1.277],[-0.985,1.187],[-0.985,1.387],[-0.981,1.142],[-0.981,1.302],[-0.981,1.352],[-0.976,1.339],[-0.976,1.249],[-0.976,1.189],
  [-0.972,1.244],[-0.972,1.344],[-0.972,1.154],[-0.967,1.421],[-0.967,1.221],[-0.967,1.311],[-0.963,1.196],[-0.963,1.386],[-0.963,1.276],
  [-0.958,1.342],[-0.958,1.162],[-0.958,1.372],[-0.954,1.258],[-0.954,1.408],[-0.954,1.198],[-0.949,1.324],[-0.949,1.234],[-0.949,1.434],
  [-0.945,1.189],[-0.945,1.349],[-0.945,1.399],[-0.940,1.386],[-0.940,1.296],[-0.940,1.236],[-0.936,1.291],[-0.936,1.391],[-0.936,1.201],
  [-0.931,1.468],[-0.931,1.268],[-0.931,1.358],[-0.927,1.243],[-0.927,1.433],[-0.927,1.323],[-0.922,1.390],[-0.922,1.210],[-0.922,1.420],
  [-0.918,1.305],[-0.918,1.455],[-0.918,1.245],[-0.913,1.371],[-0.913,1.281],[-0.913,1.481],[-0.909,1.237],[-0.909,1.397],[-0.909,1.447],
  [-0.904,1.433],[-0.904,1.343],[-0.904,1.283],[-0.900,1.338],[-0.900,1.438],[-0.900,1.248],[-0.895,1.515],[-0.895,1.315],[-0.895,1.405],
  [-0.891,1.290],[-0.891,1.480],[-0.891,1.370],[-0.886,1.437],[-0.886,1.257],[-0.886,1.467],[-0.882,1.352],[-0.882,1.502],[-0.882,1.292],
  [-0.877,1.419],[-0.877,1.329],[-0.877,1.529],[-0.873,1.284],[-0.873,1.444],[-0.873,1.494],[-0.868,1.480],[-0.868,1.390],[-0.868,1.330],
  [-0.864,1.386],[-0.864,1.486],[-0.864,1.296],[-0.859,1.562],[-0.859,1.362],[-0.859,1.452],[-0.855,1.337],[-0.855,1.527],[-0.855,1.417],
  [-0.850,1.484],[-0.850,1.304],[-0.850,1.514],[-0.846,1.399],[-0.846,1.549],[-0.846,1.339],[-0.841,1.466],[-0.841,1.376],[-0.841,1.576],
  [-0.837,1.331],[-0.837,1.491],[-0.837,1.541],[-0.832,1.527],[-0.832,1.437],[-0.832,1.377],[-0.828,1.433],[-0.828,1.533],[-0.828,1.343],
  [-0.823,1.609],[-0.823,1.409],[-0.823,1.499],[-0.819,1.384],[-0.819,1.574],[-0.819,1.464],[-0.814,1.531],[-0.814,1.351],[-0.814,1.561],
  [-0.810,1.446],[-0.810,1.596],[-0.810,1.386],[-0.805,1.513],[-0.805,1.423],[-0.805,1.623],[-0.801,1.378],[-0.801,1.538],[-0.801,1.588],
  [-0.796,1.575],[-0.796,1.485],[-0.796,1.425],[-0.792,1.480],[-0.792,1.580],[-0.792,1.390],[-0.787,1.656],[-0.787,1.456],[-0.787,1.546],
  [-0.783,1.432],[-0.783,1.622],[-0.783,1.512],[-0.778,1.578],[-0.778,1.398],[-0.778,1.608],[-0.774,1.493],[-0.774,1.643],[-0.774,1.433],
  [-0.769,1.560],[-0.769,1.470],[-0.769,1.670],[-0.765,1.425],[-0.765,1.585],[-0.765,1.635],[-0.760,1.622],[-0.760,1.532],[-0.760,1.472],
];

const GRAY_CORE_C = [
  [-1.250,0.910],[-1.250,0.830],[-1.246,0.975],[-1.246,1.075],[-1.241,0.891],[-1.241,1.011],[-1.237,1.057],[-1.237,0.817],
  [-1.232,0.963],[-1.232,0.883],[-1.228,1.018],[-1.228,1.118],[-1.223,0.945],[-1.223,0.865],[-1.219,1.010],[-1.219,1.110],
  [-1.214,0.927],[-1.214,1.047],[-1.210,1.092],[-1.210,0.852],[-1.205,0.998],[-1.205,0.918],[-1.201,1.054],[-1.201,1.154],
  [-1.196,0.980],[-1.196,0.900],[-1.192,1.045],[-1.192,1.145],[-1.187,0.962],[-1.187,1.082],[-1.183,1.127],[-1.183,0.887],
  [-1.178,1.034],[-1.178,0.954],[-1.174,1.089],[-1.174,1.189],[-1.169,1.016],[-1.169,0.936],[-1.165,1.081],[-1.165,1.181],
  [-1.160,0.997],[-1.160,1.117],[-1.156,1.163],[-1.156,0.923],[-1.151,1.069],[-1.151,0.989],[-1.147,1.124],[-1.147,1.224],
  [-1.142,1.051],[-1.142,0.971],[-1.138,1.116],[-1.138,1.216],[-1.133,1.033],[-1.133,1.153],[-1.129,1.198],[-1.129,0.958],
  [-1.124,1.105],[-1.124,1.025],[-1.120,1.160],[-1.120,1.260],[-1.115,1.086],[-1.115,1.006],[-1.111,1.152],[-1.111,1.252],
  [-1.106,1.068],[-1.106,1.188],[-1.102,1.233],[-1.102,0.993],[-1.097,1.140],[-1.097,1.060],[-1.093,1.195],[-1.093,1.295],
  [-1.088,1.122],[-1.088,1.042],[-1.084,1.187],[-1.084,1.287],[-1.079,1.104],[-1.079,1.224],[-1.075,1.269],[-1.075,1.029],
  [-1.070,1.175],[-1.070,1.095],[-1.066,1.231],[-1.066,1.331],[-1.061,1.157],[-1.061,1.077],[-1.057,1.222],[-1.057,1.322],
  [-1.052,1.139],[-1.052,1.259],[-1.048,1.304],[-1.048,1.064],[-1.043,1.211],[-1.043,1.131],[-1.039,1.266],[-1.039,1.366],
  [-1.034,1.192],[-1.034,1.112],[-1.030,1.258],[-1.030,1.358],[-1.025,1.174],[-1.025,1.294],[-1.021,1.339],[-1.021,1.099],
  [-1.016,1.246],[-1.016,1.166],[-1.012,1.301],[-1.012,1.401],[-1.007,1.228],[-1.007,1.148],[-1.003,1.293],[-1.003,1.393],
  [-0.998,1.210],[-0.998,1.330],[-0.994,1.375],[-0.994,1.135],[-0.989,1.281],[-0.989,1.201],[-0.985,1.337],[-0.985,1.437],
  [-0.980,1.263],[-0.980,1.183],[-0.976,1.328],[-0.976,1.428],[-0.971,1.245],[-0.971,1.365],[-0.967,1.410],[-0.967,1.170],
  [-0.962,1.317],[-0.962,1.237],[-0.958,1.372],[-0.958,1.472],[-0.953,1.299],[-0.953,1.219],[-0.949,1.364],[-0.949,1.464],
  [-0.944,1.280],[-0.944,1.400],[-0.940,1.446],[-0.940,1.206],[-0.935,1.352],[-0.935,1.272],[-0.931,1.407],[-0.931,1.507],
  [-0.926,1.334],[-0.926,1.254],[-0.922,1.399],[-0.922,1.499],[-0.917,1.316],[-0.917,1.436],[-0.913,1.481],[-0.913,1.241],
  [-0.908,1.388],[-0.908,1.308],[-0.904,1.443],[-0.904,1.543],[-0.899,1.369],[-0.899,1.289],[-0.895,1.435],[-0.895,1.535],
  [-0.890,1.351],[-0.890,1.471],[-0.886,1.516],[-0.886,1.276],[-0.881,1.423],[-0.881,1.343],[-0.877,1.478],[-0.877,1.578],
  [-0.872,1.405],[-0.872,1.325],[-0.868,1.470],[-0.868,1.570],[-0.863,1.387],[-0.863,1.507],[-0.859,1.552],[-0.859,1.312],
  [-0.854,1.458],[-0.854,1.378],[-0.850,1.514],[-0.850,1.614],[-0.845,1.440],[-0.845,1.360],[-0.841,1.505],[-0.841,1.605],
  [-0.836,1.422],[-0.836,1.542],[-0.832,1.587],[-0.832,1.347],[-0.827,1.494],[-0.827,1.414],[-0.823,1.549],[-0.823,1.649],
  [-0.818,1.475],[-0.818,1.395],[-0.814,1.541],[-0.814,1.641],[-0.809,1.457],[-0.809,1.577],[-0.805,1.622],[-0.805,1.382],
  [-0.800,1.529],[-0.800,1.449],[-0.796,1.584],[-0.796,1.684],[-0.791,1.511],[-0.791,1.431],[-0.787,1.576],[-0.787,1.676],
  [-0.782,1.492],[-0.782,1.612],[-0.778,1.658],[-0.778,1.418],[-0.773,1.564],[-0.773,1.484],[-0.769,1.619],[-0.769,1.719],
];

// [log P, log L, error]
const MCNAMARA_HADS = [
  [-1.066,1.612,0.01],[-0.920,1.501,0.045],[-0.910,1.458,0],[-0.960,1.314,0.025],[-0.983,1.216,0],[-1.054,1.102,0],
  [-1.030,1.062,0],[-1.103,1.047,0],[-1.137,1.027,0],[-0.869,1.329,0],[-0.826,1.367,0.03],[-0.830,1.415,0],
  [-0.740,1.570,0.02],[-0.650,1.587,0.025],[-0.596,1.655,0],[-0.541,1.603,0.02],[-0.647,1.892,0.035],[-0.573,1.939,0],
];

const LARES_HADS = [
  [-0.850,2.335,0],[-0.975,2.101,0.13],[-0.991,1.957,0.015],[-0.994,1.821,0],[-0.898,1.865,0],[-0.858,1.923,0.025],
  [-0.856,0.452,0.065],[-1.153,0.890,0.02],[-1.236,0.935,0],[-1.153,0.986,0.025],[-1.128,1.097,0.02],[-1.121,0.991,0],
  [-1.077,1.277,0],[-1.068,1.215,0],[-1.042,1.280,0],[-1.038,1.179,0.02],[-1.022,1.080,0.035],[-0.966,1.200,0],
  [-0.953,1.216,0.015],[-0.931,1.242,0.02],[-0.922,1.443,0.02],[-0.913,1.458,0],[-0.914,1.302,0],[-0.887,1.320,0.02],
  [-0.883,1.394,0],[-0.877,1.347,0],[-0.873,1.367,0],[-0.872,1.265,0.025],[-0.860,1.286,0],[-0.840,1.320,0.035],
  [-0.819,1.412,0],[-0.777,1.455,0.02],[-0.752,1.612,0.03],[-0.750,1.513,0],[-0.746,1.505,0],[-0.718,1.538,0],[-0.694,1.545,0],
];

const BEDDING = [
  [-1.362,0.754],[-1.339,0.849],[-1.333,0.908],[-1.326,0.920],[-1.322,0.890],[-1.314,0.908],
  [-1.313,0.883],[-1.297,0.914],[-1.294,0.905],[-1.270,0.951],[-1.262,1.013],[-1.260,0.853],
];

// fitted PLR lines, end points where they leave the frame
const MCNAMARA_PLR = [[-1.673, 0.40], [-0.511, 1.812]];
const LARES_PLR = [[-1.684, 0.40], [-0.511, 1.788]];
const KEPLER_PLR = [[-1.639, 0.40], [-0.511, 1.88]];

const FONT = "DejaVu Sans";
const toPts = (arr: number[][]) => arr.map(([x, y, err]) => ({ x, y, err: err ?? 0 }));
const gray = toPts([
  ...GRAY_LEFT, ...GRAY_LOW, ...GRAY_UPPER, ...GRAY_TOP, ...GRAY_RIGHT, ...GRAY_BAND,
  ...GRAY_CORE_A, ...GRAY_CORE_B, ...GRAY_CORE_C,
]);

const GrayDot = (p: any) => <circle cx={p.cx} cy={p.cy} r={2} fill="#808080" fillOpacity={0.8} />;
const RedSquare = (p: any) => <rect x={p.cx - 3.8} y={p.cy - 3.8} width={7.6} height={7.6} fill="#ff0000" />;
const BlueDot = (p: any) => <circle cx={p.cx} cy={p.cy} r={4.1} fill="#0000ff" />;
const Tri = (p: any) => (
  <polygon points={`${p.cx},${p.cy - 5.5} ${p.cx - 5.2},${p.cy + 4.2} ${p.cx + 5.2},${p.cy + 4.2}`} fill="#800080" />
);
const NoDot = () => <g />;

const minus = (s: string) => s.replace("-", "\u2212");

const LEGEND = [
  "Kepler+ASAS-SN",
  "McNamara PLR",
  "Lares-Martiz PLR",
  "Kepler+ASAS-SN PLR",
  "McNamara HADS",
  "Lares-Martiz HADS",
  "Bedding sample",
];

function LegendHandle({ i, cy }: { i: number; cy: number }) {
  const cx = 125;
  if (i === 0) return <circle cx={cx} cy={cy} r={2.2} fill="#808080" fillOpacity={0.8} />;
  if (i <= 3) {
    const c = ["#ff0000", "#0000ff", "#000000"][i - 1];
    return <line x1={105} x2={145} y1={cy} y2={cy} stroke={c} strokeWidth={2.5} />;
  }
  if (i === 4)
    return (
      <g>
        <line x1={cx} x2={cx} y1={cy - 9.5} y2={cy + 9.5} stroke="#ff0000" strokeWidth={2.5} />
        <rect x={cx - 6.5} y={cy - 6.5} width={13} height={13} fill="#ff0000" />
      </g>
    );
  if (i === 5)
    return (
      <g>
        <line x1={cx} x2={cx} y1={cy - 8.5} y2={cy + 8.5} stroke="#0000ff" strokeWidth={2.5} />
        <circle cx={cx} cy={cy} r={6.5} fill="#0000ff" />
      </g>
    );
  return <polygon points={`${cx},${cy - 9} ${cx - 9},${cy + 8} ${cx + 9},${cy + 8}`} fill="#800080" />;
}

export default function App() {
  const axisLine = { stroke: "#000", strokeWidth: 1.25 };
  const tick = { fill: "#000", fontSize: 18, fontFamily: FONT };
  return (
    <div style={{ position: "absolute", left: 0, top: 0, width: 818, height: 606, overflow: "hidden", background: "#fff" }}>
      <ScatterChart width={818} height={606} margin={{ top: 5, right: 0, bottom: 0, left: 0 }}>
        <XAxis
          type="number"
          dataKey="x"
          domain={[-1.76, -0.511]}
          allowDataOverflow
          ticks={X_TICKS}
          interval={0}
          tickFormatter={(v: number) => minus(v.toFixed(1))}
          height={60}
          tick={tick}
          axisLine={axisLine}
          tickLine={axisLine}
          tickSize={6}
          tickMargin={8}
        />
        <YAxis
          type="number"
          dataKey="y"
          domain={[0.4, 2.4]}
          allowDataOverflow
          ticks={Y_TICKS}
          interval={0}
          tickFormatter={(v: number) => v.toFixed(2)}
          width={89}
          tick={tick}
          axisLine={axisLine}
          tickLine={axisLine}
          tickSize={6}
          tickMargin={9}
        />
        <ReferenceLine y={2.4} stroke="#000" strokeWidth={1.25} />
        <Scatter data={gray} shape={GrayDot} isAnimationActive={false} />
        <Scatter data={toPts(MCNAMARA_PLR)} shape={NoDot} line={{ stroke: "#ff0000", strokeWidth: 2.5 }} isAnimationActive={false} />
        <Scatter data={toPts(LARES_PLR)} shape={NoDot} line={{ stroke: "#0000ff", strokeWidth: 2.5 }} isAnimationActive={false} />
        <Scatter data={toPts(KEPLER_PLR)} shape={NoDot} line={{ stroke: "#000000", strokeWidth: 2.5 }} isAnimationActive={false} />
        <Scatter data={toPts(MCNAMARA_HADS)} shape={RedSquare} isAnimationActive={false}>
          <ErrorBar dataKey="err" direction="y" width={0} stroke="#ff0000" strokeWidth={2.5} />
        </Scatter>
        <Scatter data={toPts(LARES_HADS)} shape={BlueDot} isAnimationActive={false}>
          <ErrorBar dataKey="err" direction="y" width={0} stroke="#0000ff" strokeWidth={2.5} />
        </Scatter>
        <Scatter data={toPts(BEDDING)} shape={Tri} isAnimationActive={false} />
      </ScatterChart>
      <svg width={818} height={606} style={{ position: "absolute", left: 0, top: 0, pointerEvents: "none" }}>
        <g fontFamily={FONT} fontSize={18} fill="#000">
          <text x={457} y={598} textAnchor="middle">log (P) (d)</text>
          <text transform="rotate(-90)" x={-276} y={24} textAnchor="middle">
            log  (L/L<tspan fontSize={12} dy={4}>⊙</tspan><tspan dy={-4}>)</tspan>
          </text>
        </g>
        <rect x={98} y={13} width={266} height={195} rx={4} fill="#ffffff" fillOpacity={0.8} stroke="#cccccc" strokeWidth={1} />
        {LEGEND.map((label, i) => {
          const cy = 30.7 + i * 26.85;
          return (
            <g key={label}>
              <LegendHandle i={i} cy={cy} />
              <text x={159} y={cy + 5} fontFamily={FONT} fontSize={18.5} fill="#000">{label}</text>
            </g>
          );
        })}
      </svg>
    </div>
  );
}
